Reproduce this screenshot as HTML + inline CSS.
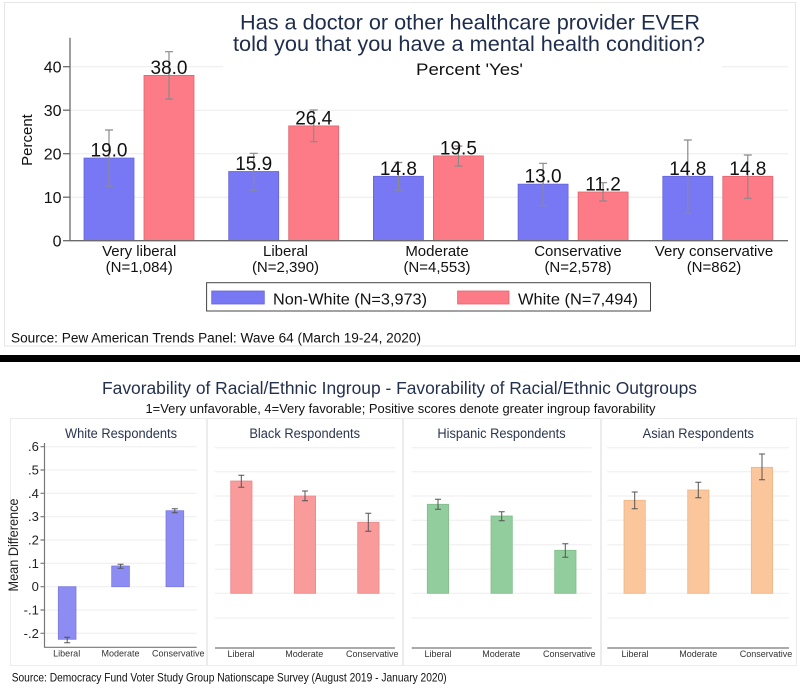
<!DOCTYPE html>
<html><head><meta charset="utf-8"><style>
html,body{margin:0;padding:0;background:#fff;}
svg{display:block;}
text{font-family:"Liberation Sans",Arial,sans-serif;}
</style></head><body>
<svg width="800" height="694" viewBox="0 0 800 694" xmlns="http://www.w3.org/2000/svg">
<rect x="0" y="0" width="800" height="694" fill="#fff"/>
<!-- top panel frame -->
<rect x="4.5" y="2.5" width="791" height="343.5" fill="none" stroke="#e6e6e6" stroke-width="1"/>

<!-- top gridlines -->
<g stroke="#ebebeb" stroke-width="1">
<line x1="70" y1="197.2" x2="788" y2="197.2"/>
<line x1="70" y1="153.7" x2="788" y2="153.7"/>
<line x1="70" y1="110.2" x2="788" y2="110.2"/>
<line x1="70" y1="66.7" x2="223" y2="66.7"/>
<line x1="722" y1="66.7" x2="788" y2="66.7"/>
</g>

<!-- top title -->
<text x="470" y="29.5" font-size="21.5" fill="#1f2d4d" text-anchor="middle" textLength="460" lengthAdjust="spacingAndGlyphs">Has a doctor or other healthcare provider EVER</text>
<text x="469" y="51" font-size="21.5" fill="#1f2d4d" text-anchor="middle" textLength="472" lengthAdjust="spacingAndGlyphs">told you that you have a mental health condition?</text>
<text x="469.5" y="75" font-size="17" fill="#111" text-anchor="middle" textLength="107" lengthAdjust="spacingAndGlyphs">Percent 'Yes'</text>

<!-- bars top -->
<g fill="#7878f4" stroke="#6464d8" stroke-width="0.8">
<rect x="84" y="158.05" width="50" height="82.65"/>
<rect x="228.7" y="171.5" width="50" height="69.2"/>
<rect x="373.4" y="176.3" width="50" height="64.4"/>
<rect x="518.1" y="184.15" width="50" height="56.55"/>
<rect x="662.8" y="176.3" width="50" height="64.4"/>
</g>
<g fill="#fd7b86" stroke="#e0646f" stroke-width="0.8">
<rect x="144" y="75.4" width="50" height="165.3"/>
<rect x="288.7" y="125.9" width="50" height="114.8"/>
<rect x="433.4" y="155.9" width="50" height="84.8"/>
<rect x="578.1" y="192.0" width="50" height="48.7"/>
<rect x="722.8" y="176.3" width="50" height="64.4"/>
</g>

<!-- error bars top -->
<g stroke="#8a8a8a" stroke-width="1.2" fill="none">
<path d="M109 130V186M105 130H113M105 186H113"/>
<path d="M169 51.7V99M165 51.7H173M165 99H173"/>
<path d="M253.7 153.3V190M249.7 153.3H257.7M249.7 190H257.7"/>
<path d="M313.7 110V141.7M309.7 110H317.7M309.7 141.7H317.7"/>
<path d="M398.4 162.5V190M394.4 162.5H402.4M394.4 190H402.4"/>
<path d="M458.4 146V166M454.4 146H462.4M454.4 166H462.4"/>
<path d="M543.1 163.3V205.7M539.1 163.3H547.1M539.1 205.7H547.1"/>
<path d="M603.1 182.7V201M599.1 182.7H607.1M599.1 201H607.1"/>
<path d="M687.8 140V213.3M683.8 140H691.8M683.8 213.3H691.8"/>
<path d="M747.8 155V198.3M743.8 155H751.8M743.8 198.3H751.8"/>
</g>

<!-- value labels -->
<g font-size="19" fill="#111" text-anchor="middle">
<text x="109" y="156.5">19.0</text>
<text x="169" y="74">38.0</text>
<text x="253.7" y="170">15.9</text>
<text x="313.7" y="124.4">26.4</text>
<text x="398.4" y="174.8">14.8</text>
<text x="458.4" y="154.4">19.5</text>
<text x="543.1" y="182.6">13.0</text>
<text x="603.1" y="190.5">11.2</text>
<text x="687.8" y="174.8">14.8</text>
<text x="747.8" y="174.8">14.8</text>
</g>

<!-- top axes -->
<g stroke="#6a6a6a" stroke-width="1.3">
<line x1="70" y1="37.7" x2="70" y2="241"/>
<line x1="69.5" y1="240.7" x2="788" y2="240.7"/>
<line x1="63" y1="240.7" x2="70" y2="240.7"/>
<line x1="63" y1="197.2" x2="70" y2="197.2"/>
<line x1="63" y1="153.7" x2="70" y2="153.7"/>
<line x1="63" y1="110.2" x2="70" y2="110.2"/>
<line x1="63" y1="66.7" x2="70" y2="66.7"/>
</g>
<g font-size="16" fill="#111" text-anchor="end">
<text x="61.5" y="246.3">0</text>
<text x="61.5" y="202.8">10</text>
<text x="61.5" y="159.3">20</text>
<text x="61.5" y="115.8">30</text>
<text x="61.5" y="72.3">40</text>
</g>
<text transform="translate(32,140) rotate(-90)" font-size="15" fill="#111" text-anchor="middle">Percent</text>

<!-- category labels -->
<g font-size="15" fill="#111" text-anchor="middle">
<text x="139.2" y="256">Very liberal</text>
<text x="139.2" y="272">(N=1,084)</text>
<text x="285.5" y="256">Liberal</text>
<text x="285.5" y="272">(N=2,390)</text>
<text x="437" y="256">Moderate</text>
<text x="437" y="272">(N=4,553)</text>
<text x="578" y="256">Conservative</text>
<text x="578" y="272">(N=2,578)</text>
<text x="714" y="256">Very conservative</text>
<text x="714" y="272">(N=862)</text>
</g>

<!-- legend -->
<rect x="206.6" y="282.7" width="443.9" height="28.3" fill="#fff" stroke="#444" stroke-width="1"/>
<rect x="211.7" y="291" width="52.6" height="13" fill="#7878f4" stroke="#6464d8" stroke-width="0.8"/>
<text x="273" y="304.5" font-size="16" fill="#111" textLength="154" lengthAdjust="spacingAndGlyphs">Non-White (N=3,973)</text>
<rect x="457.6" y="291" width="51.4" height="13" fill="#fd7b86" stroke="#e0646f" stroke-width="0.8"/>
<text x="518" y="304.5" font-size="16" fill="#111" textLength="120" lengthAdjust="spacingAndGlyphs">White (N=7,494)</text>

<text x="11" y="342.5" font-size="13.5" fill="#111" textLength="410" lengthAdjust="spacingAndGlyphs">Source: Pew American Trends Panel: Wave 64 (March 19-24, 2020)</text>

<!-- divider -->
<rect x="0" y="355" width="800" height="7" fill="#000"/>

<!-- bottom title -->
<text x="399.5" y="394" font-size="17.3" fill="#24314d" text-anchor="middle" textLength="595" lengthAdjust="spacingAndGlyphs">Favorability of Racial/Ethnic Ingroup - Favorability of Racial/Ethnic Outgroups</text>
<text x="400.5" y="413" font-size="12.5" fill="#111" text-anchor="middle" textLength="510" lengthAdjust="spacingAndGlyphs">1=Very unfavorable, 4=Very favorable; Positive scores denote greater ingroup favorability</text>

<!-- panel frames -->
<g fill="none" stroke="#ececec" stroke-width="1">
<rect x="10.5" y="418.5" width="196" height="247"/>
<rect x="207.5" y="418.5" width="195" height="247"/>
<rect x="403.5" y="418.5" width="197" height="247"/>
<rect x="601.5" y="418.5" width="195" height="247"/>
</g>

<!-- panel titles -->
<g font-size="13.5" fill="#2a3550" text-anchor="middle">
<text x="121" y="438" textLength="112" lengthAdjust="spacingAndGlyphs">White Respondents</text>
<text x="304.7" y="438" textLength="110.7" lengthAdjust="spacingAndGlyphs">Black Respondents</text>
<text x="501.5" y="438" textLength="128.3" lengthAdjust="spacingAndGlyphs">Hispanic Respondents</text>
<text x="698.3" y="438" textLength="111.3" lengthAdjust="spacingAndGlyphs">Asian Respondents</text>
</g>

<!-- panel 1 gridlines -->
<g stroke="#eeeeee" stroke-width="1">
<line x1="45" y1="446.7" x2="196.7" y2="446.7"/>
<line x1="45" y1="470" x2="196.7" y2="470"/>
<line x1="45" y1="493.3" x2="196.7" y2="493.3"/>
<line x1="45" y1="516.7" x2="196.7" y2="516.7"/>
<line x1="45" y1="540" x2="196.7" y2="540"/>
<line x1="45" y1="563.3" x2="196.7" y2="563.3"/>
<line x1="45" y1="586.7" x2="196.7" y2="586.7"/>
<line x1="45" y1="610" x2="196.7" y2="610"/>
<line x1="45" y1="633.3" x2="196.7" y2="633.3"/>
</g>
<!-- panels 2-4 gridlines -->
<g stroke="#eeeeee" stroke-width="1">
<path d="M215 447.7H395M215 471.7H395M215 496H395M215 520.3H395M215 544.7H395M215 569.3H395M215 593.3H395M215 618H395"/>
<path d="M411.7 447.7H591.7M411.7 471.7H591.7M411.7 496H591.7M411.7 520.3H591.7M411.7 544.7H591.7M411.7 569.3H591.7M411.7 593.3H591.7M411.7 618H591.7"/>
<path d="M607.3 447.7H789M607.3 471.7H789M607.3 496H789M607.3 520.3H789M607.3 544.7H789M607.3 569.3H789M607.3 593.3H789M607.3 618H789"/>
</g>

<!-- panel 1 axes -->
<g stroke="#777" stroke-width="1.2">
<line x1="44.5" y1="443" x2="44.5" y2="647.3"/>
<line x1="44" y1="647.3" x2="196.7" y2="647.3"/>
<path d="M40.5 446.7H44.5M40.5 470H44.5M40.5 493.3H44.5M40.5 516.7H44.5M40.5 540H44.5M40.5 563.3H44.5M40.5 586.7H44.5M40.5 610H44.5M40.5 633.3H44.5"/>
<line x1="215" y1="648" x2="395" y2="648"/>
<line x1="411.7" y1="648" x2="591.7" y2="648"/>
<line x1="607.3" y1="648" x2="789" y2="648"/>
</g>
<g font-size="13" fill="#222" text-anchor="end">
<text x="38.8" y="451.2">.6</text>
<text x="38.8" y="474.5">.5</text>
<text x="38.8" y="497.8">.4</text>
<text x="38.8" y="521.2">.3</text>
<text x="38.8" y="544.5">.2</text>
<text x="38.8" y="567.8">.1</text>
<text x="38.8" y="591.2">0</text>
<text x="38.8" y="614.5">-.1</text>
<text x="38.8" y="637.8">-.2</text>
</g>
<text transform="translate(18,545) rotate(-90)" font-size="13.5" fill="#222" text-anchor="middle" textLength="93" lengthAdjust="spacingAndGlyphs">Mean Difference</text>

<!-- panel bars -->
<g fill="#8c8cf2" stroke="#7a7ae0" stroke-width="0.8">
<rect x="58.3" y="586.7" width="17.7" height="52.6"/>
<rect x="111.7" y="566" width="17.7" height="20.7"/>
<rect x="166" y="510.7" width="17.7" height="76"/>
</g>
<g fill="#f99b9b" stroke="#ea8888" stroke-width="0.8">
<rect x="230.7" y="481" width="21.3" height="112.3"/>
<rect x="294.3" y="496" width="21.3" height="97.3"/>
<rect x="357.7" y="522.3" width="21.3" height="71"/>
</g>
<g fill="#92cd9d" stroke="#80bd8b" stroke-width="0.8">
<rect x="427.3" y="504.3" width="21.3" height="89"/>
<rect x="491" y="516" width="21.3" height="77.3"/>
<rect x="554.7" y="550.3" width="21.3" height="43"/>
</g>
<g fill="#fbc69b" stroke="#ecb688" stroke-width="0.8">
<rect x="624" y="500.3" width="21.3" height="93"/>
<rect x="687.7" y="490" width="21.3" height="103.3"/>
<rect x="751.3" y="467.3" width="21.3" height="126"/>
</g>

<!-- panel error bars -->
<g stroke="#555" stroke-width="1" fill="none">
<path d="M67.2 637.3V642.7M64.2 637.3H70.2M64.2 642.7H70.2"/>
<path d="M120.6 564.3V568.3M117.6 564.3H123.6M117.6 568.3H123.6"/>
<path d="M174.8 508.7V512.7M171.8 508.7H177.8M171.8 512.7H177.8"/>
<path d="M241.3 475.3V487.3M238.3 475.3H244.3M238.3 487.3H244.3"/>
<path d="M305 491V500.7M302 491H308M302 500.7H308"/>
<path d="M368.3 513.3V531.3M365.3 513.3H371.3M365.3 531.3H371.3"/>
<path d="M438 499.3V509.3M435 499.3H441M435 509.3H441"/>
<path d="M501.7 511.7V520.7M498.7 511.7H504.7M498.7 520.7H504.7"/>
<path d="M565.3 543.7V557.3M562.3 543.7H568.3M562.3 557.3H568.3"/>
<path d="M634.7 492V508.7M631.7 492H637.7M631.7 508.7H637.7"/>
<path d="M698.3 482.3V497.7M695.3 482.3H701.3M695.3 497.7H701.3"/>
<path d="M762 454V479.7M759 454H765M759 479.7H765"/>
</g>

<!-- panel x labels -->
<g font-size="9" fill="#333" text-anchor="middle">
<text x="66.7" y="656.5">Liberal</text>
<text x="120.5" y="656.5">Moderate</text>
<text x="178.3" y="656.5">Conservative</text>
<text x="241" y="657">Liberal</text>
<text x="304.3" y="657">Moderate</text>
<text x="372.3" y="657">Conservative</text>
<text x="438" y="657">Liberal</text>
<text x="501.3" y="657">Moderate</text>
<text x="569.3" y="657">Conservative</text>
<text x="635" y="657">Liberal</text>
<text x="698.3" y="657">Moderate</text>
<text x="766" y="657">Conservative</text>
</g>

<text x="11.7" y="681.5" font-size="12" fill="#111" textLength="435" lengthAdjust="spacingAndGlyphs">Source: Democracy Fund Voter Study Group Nationscape Survey (August 2019 - January 2020)</text>
</svg>
</body></html>
